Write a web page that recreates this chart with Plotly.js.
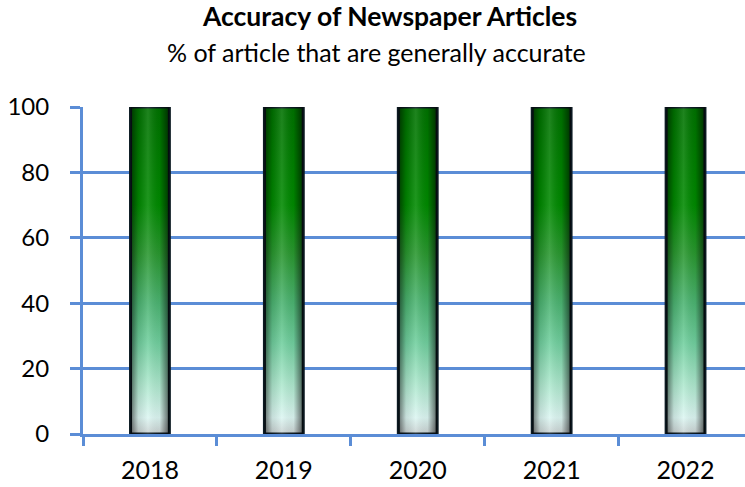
<!DOCTYPE html>
<html>
<head>
<meta charset="utf-8">
<script src="https://cdn.plot.ly/plotly-3.0.1.min.js"></script>
<style>html,body{margin:0;padding:0;background:#fff;}#chart{width:745px;height:487px;}</style>
</head>
<body>
<div id="chart"></div>
<script>
const years = ['2018', '2019', '2020', '2021', '2022'];
const accuracy = [100, 100, 100, 100, 100];
const yTicks = [0, 20, 40, 60, 80, 100];
const titleText = 'Accuracy of Newspaper Articles';
const subtitleText = '% of article that are generally accurate';

const FONT = 'Lato, "Open Sans", sans-serif';
const BLUE = '#5b8dd6';

const base = {
  type: 'bar', x: years, y: accuracy, width: 0.29,
  marker: {color: '#2a9a40', line: {color: '#0c1a22', width: 3}},
  hoverinfo: 'skip', showlegend: false
};
const shade = Object.assign({}, base, {
  marker: {color: 'rgba(0,0,0,0.3)', line: {width: 0}}
});

const layout = {
  width: 745, height: 487,
  margin: {l: 83, r: 0, t: 107, b: 53},
  paper_bgcolor: '#fff', plot_bgcolor: '#fff',
  barmode: 'overlay',
  font: {family: FONT, color: '#000'},
  xaxis: {
    type: 'category', range: [-0.5, 4.444],
    tickson: 'boundaries', ticks: 'outside', ticklen: 9, tickwidth: 3, tickcolor: BLUE,
    showline: true, linecolor: BLUE, linewidth: 3,
    showgrid: false, zeroline: false,
    tickfont: {size: 25, family: FONT},
    ticklabelstandoff: 12
  },
  yaxis: {
    range: [0, 100], tickvals: yTicks, ticktext: yTicks.map(String),
    ticks: 'outside', ticklen: 10, tickwidth: 3, tickcolor: BLUE,
    showline: true, linecolor: BLUE, linewidth: 3,
    showgrid: true, gridcolor: BLUE, gridwidth: 3,
    zeroline: false, tickfont: {size: 24, family: FONT},
    ticklabelstandoff: 16
  },
  annotations: [
    {text: '<b>' + titleText + '</b>', xref: 'paper', yref: 'paper', x: 0.4637, y: 1.277,
     xanchor: 'center', yanchor: 'middle', showarrow: false, font: {size: 26.5, family: FONT}},
    {text: subtitleText, xref: 'paper', yref: 'paper', x: 0.4434, y: 1.168,
     xanchor: 'center', yanchor: 'middle', showarrow: false, font: {size: 25, family: FONT}}
  ]
};

Plotly.newPlot('chart', [base, shade], layout, {staticPlot: true, displayModeBar: false}).then(function (gd) {
  const svg = gd.querySelector('svg.main-svg');
  const NS = 'http://www.w3.org/2000/svg';
  let defs = svg.querySelector('defs');
  if (!defs) { defs = document.createElementNS(NS, 'defs'); svg.insertBefore(defs, svg.firstChild); }
  function grad(id, vertical, stops) {
    const g = document.createElementNS(NS, 'linearGradient');
    g.setAttribute('id', id);
    g.setAttribute('x1', '0'); g.setAttribute('y1', '0');
    g.setAttribute('x2', vertical ? '0' : '1'); g.setAttribute('y2', vertical ? '1' : '0');
    stops.forEach(function (s) {
      const st = document.createElementNS(NS, 'stop');
      st.setAttribute('offset', s[0]); st.setAttribute('stop-color', s[1]);
      st.setAttribute('stop-opacity', s[2] === undefined ? 1 : s[2]);
      g.appendChild(st);
    });
    defs.appendChild(g);
  }
  grad('gV', true, [[0, '#007200'], [0.3, '#008a00'], [0.45, '#2a9830'], [0.6, '#4cb472'],
    [0.72, '#70cf9e'], [0.85, '#aee8ce'], [0.95, '#dcf6f2'], [1, '#c8d0d0']]);
  grad('gH', false, [[0, '#000', 0.55], [0.2, '#000', 0.1], [0.45, '#fff', 0.12], [0.75, '#000', 0.05], [1, '#000', 0.6]]);
  const traces = svg.querySelectorAll('.barlayer .trace');
  traces[0].querySelectorAll('path').forEach(function (p) { p.style.fill = 'url(#gV)'; p.style.fillOpacity = 1; });
  traces[1].querySelectorAll('path').forEach(function (p) { p.style.fill = 'url(#gH)'; p.style.fillOpacity = 1; });
});
</script>
</body>
</html>
